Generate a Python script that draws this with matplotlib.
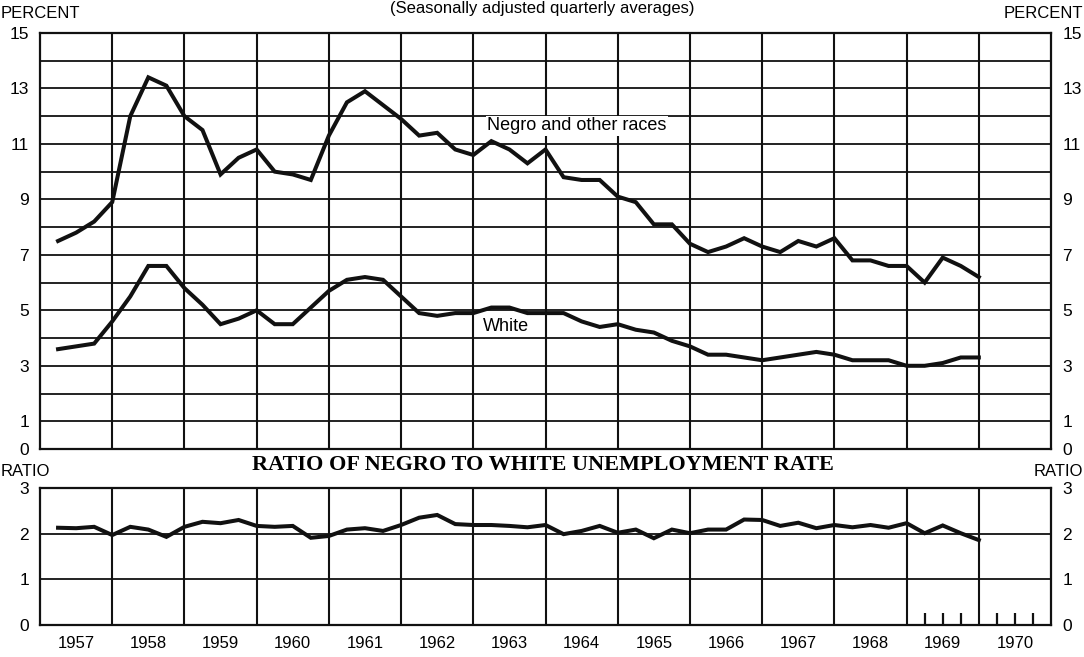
import numpy as np
import matplotlib
matplotlib.use("Agg")
import matplotlib.pyplot as plt

plt.rcParams["font.family"] = ["Liberation Sans", "DejaVu Sans"]
INK = "#111111"

# quarterly averages, 1957 Q1 .. 1969 Q4
years = list(range(1957, 1971))
negro = [7.5, 7.8, 8.2, 8.9, 12.0, 13.4, 13.1, 12.0,
         11.5, 9.9, 10.5, 10.8, 10.0, 9.9, 9.7, 11.3,
         12.5, 12.9, 12.4, 11.9, 11.3, 11.4, 10.8, 10.6,
         11.1, 10.8, 10.3, 10.8, 9.8, 9.7, 9.7, 9.1,
         8.9, 8.1, 8.1, 7.4, 7.1, 7.3, 7.6, 7.3,
         7.1, 7.5, 7.3, 7.6, 6.8, 6.8, 6.6, 6.6,
         6.0, 6.9, 6.6, 6.2]
white = [3.6, 3.7, 3.8, 4.6, 5.5, 6.6, 6.6, 5.8,
         5.2, 4.5, 4.7, 5.0, 4.5, 4.5, 5.1, 5.7,
         6.1, 6.2, 6.1, 5.5, 4.9, 4.8, 4.9, 4.9,
         5.1, 5.1, 4.9, 4.9, 4.9, 4.6, 4.4, 4.5,
         4.3, 4.2, 3.9, 3.7, 3.4, 3.4, 3.3, 3.2,
         3.3, 3.4, 3.5, 3.4, 3.2, 3.2, 3.2, 3.0,
         3.0, 3.1, 3.3, 3.3]
ratio = [2.13, 2.12, 2.15, 1.97, 2.15, 2.09, 1.93, 2.15,
         2.26, 2.23, 2.30, 2.17, 2.15, 2.17, 1.91, 1.95,
         2.09, 2.12, 2.06, 2.19, 2.35, 2.41, 2.21, 2.19,
         2.19, 2.17, 2.14, 2.19, 1.99, 2.06, 2.17, 2.02,
         2.09, 1.90, 2.09, 2.01, 2.09, 2.09, 2.31, 2.30,
         2.17, 2.24, 2.12, 2.19, 2.14, 2.19, 2.13, 2.23,
         2.01, 2.18, 2.01, 1.86]

# each quarter is plotted at its end
x = years[0] + (np.arange(len(negro)) + 1) / 4.0

fig = plt.figure(figsize=(10.84, 6.57), dpi=100)
ax = fig.add_axes([0.0369, 0.3166, 0.9327, 0.6332])
ax2 = fig.add_axes([0.0369, 0.0487, 0.9327, 0.2085])


def frame(a, ymax, major, minor):
    a.set_xlim(years[0], years[-1] + 1)
    a.set_ylim(0, ymax)
    a.set_yticks(major)
    a.set_yticks(minor, minor=True)
    a.grid(True, axis="y", which="both", color=INK, lw=1.3)
    for yr in years[1:]:
        a.axvline(yr, color=INK, lw=1.5, zorder=1)
    for s in a.spines.values():
        s.set_linewidth(1.6)
        s.set_color(INK)
    a.tick_params(axis="y", which="both", length=0, labelsize=12.5, pad=8,
                  labelleft=True, labelright=True)
    a.set_axisbelow(True)


frame(ax, 15, [0, 1, 3, 5, 7, 9, 11, 13, 15], [2, 4, 6, 8, 10, 12, 14])
ax.set_xticks([])
ax.plot(x, negro, color=INK, lw=2.9, solid_joinstyle="miter", zorder=3)
ax.plot(x, white, color=INK, lw=2.9, solid_joinstyle="miter", zorder=3)

ax.text(1963.19, 11.65, "Negro and other races", fontsize=13, ha="left", va="center",
        bbox=dict(facecolor="white", edgecolor="none", pad=1), zorder=2)
ax.text(1963.14, 4.42, "White", fontsize=13, ha="left", va="center",
        bbox=dict(facecolor="white", edgecolor="none", pad=1), zorder=2)

frame(ax2, 3, [0, 1, 2, 3], [])
ax2.xaxis.remove_overlapping_locs = False
ax2.set_xticks([y + 0.5 for y in years])
ax2.set_xticklabels([str(y) for y in years])
ax2.tick_params(axis="x", which="major", length=0, labelsize=12, pad=8)
ax2.set_xticks([1969.25, 1969.5, 1969.75, 1970.25, 1970.5, 1970.75], minor=True)
ax2.tick_params(axis="x", which="minor", direction="in", length=8.5, width=1.6,
                color=INK)
ax2.plot(x, ratio, color=INK, lw=2.9, solid_joinstyle="miter", zorder=3)

fig.text(0.5, 1 - 9 / 657, "(Seasonally adjusted quarterly averages)", fontsize=12,
         ha="center", va="center")
fig.text(0.001, 1 - 14 / 657, "PERCENT", fontsize=12, ha="left", va="center")
fig.text(0.999, 1 - 14 / 657, "PERCENT", fontsize=12, ha="right", va="center")
fig.text(0.001, 1 - 471 / 657, "RATIO", fontsize=12, ha="left", va="center")
fig.text(0.999, 1 - 471 / 657, "RATIO", fontsize=12, ha="right", va="center")
fig.text(0.501, 1 - 465 / 657, "RATIO OF NEGRO TO WHITE UNEMPLOYMENT RATE",
         fontsize=16, fontweight="bold", family=["Liberation Serif", "DejaVu Serif"],
         ha="center", va="center")

fig.savefig("out.png", dpi=100, facecolor="white")
